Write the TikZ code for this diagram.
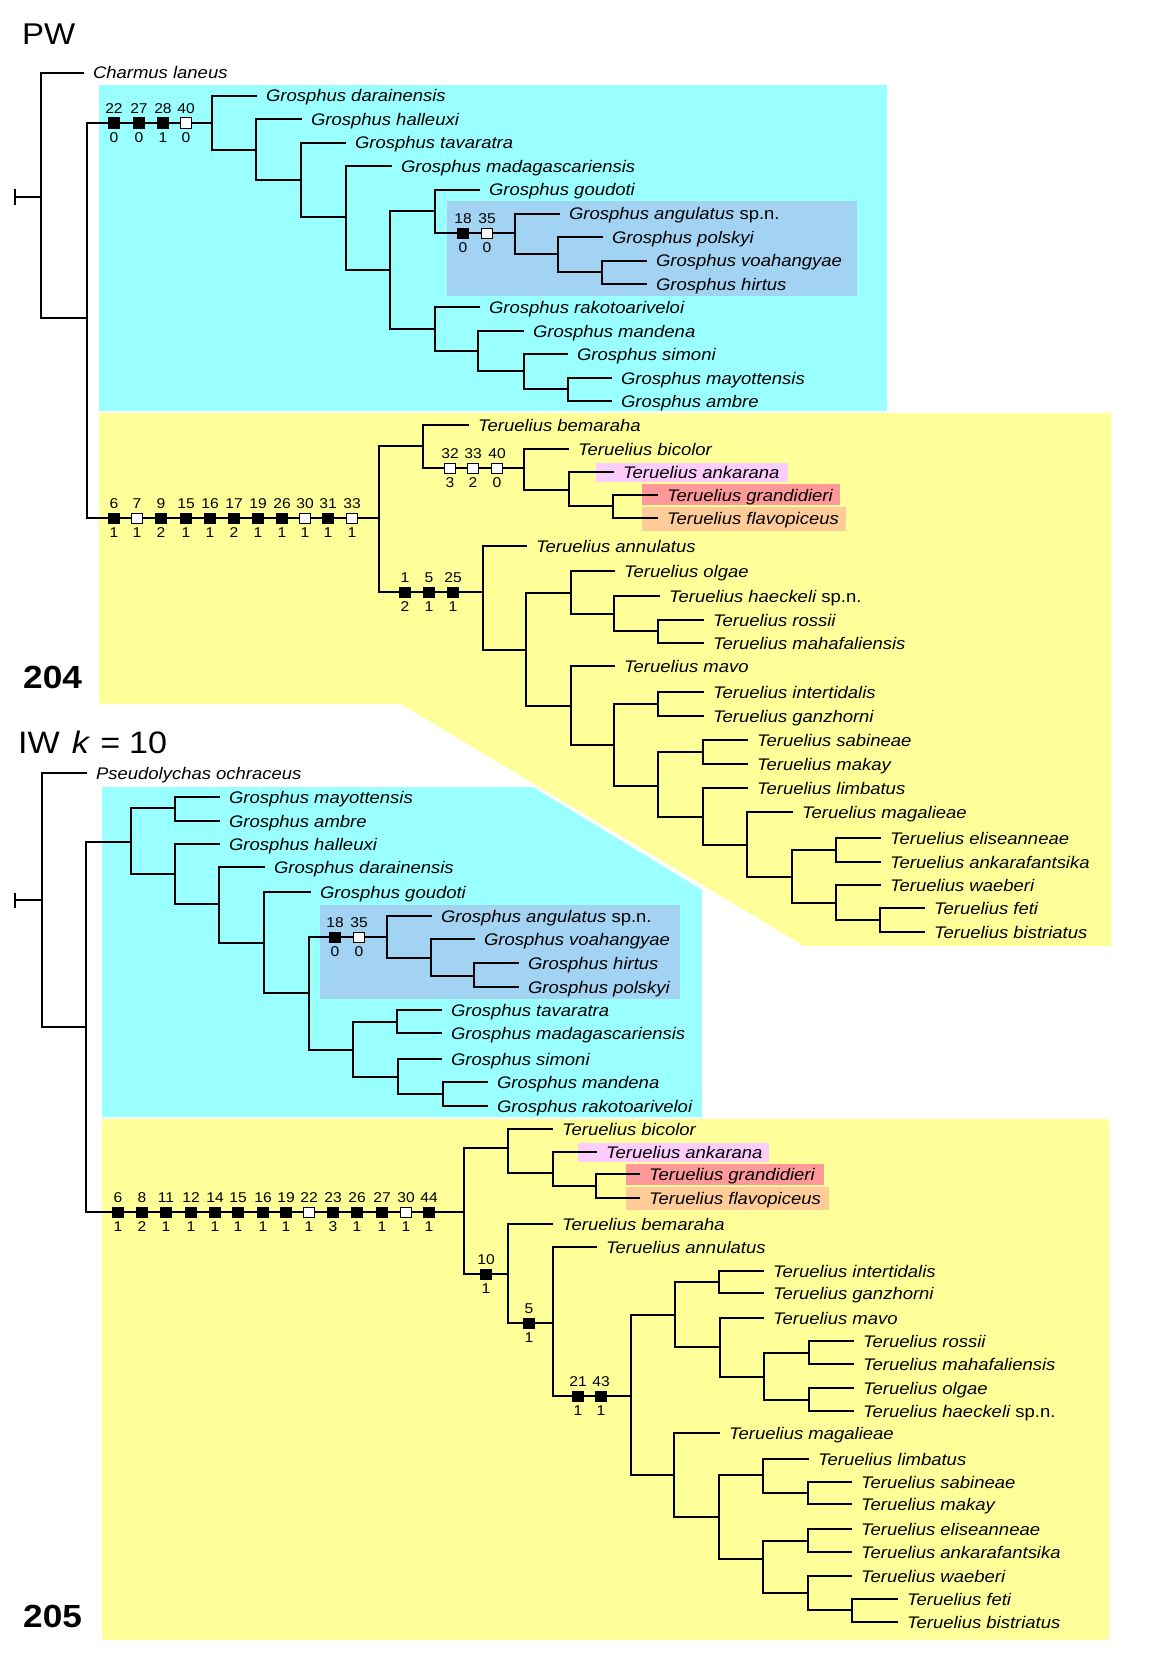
\documentclass[tikz,border=0pt]{standalone}
\usepackage{fontspec}
\setmainfont{Liberation Sans}[FakeStretch=1.1]
\definecolor{cyanbg}{RGB}{153,255,255}
\definecolor{yellowbg}{RGB}{255,255,153}
\definecolor{bluebg}{RGB}{163,211,243}
\definecolor{pinkbg}{RGB}{252,204,252}
\definecolor{redbg}{RGB}{255,153,153}
\definecolor{orangebg}{RGB}{255,204,153}
\newcommand\tipfont{\fontsize{16.8}{18}\selectfont\itshape}
\newcommand\numfont{\fontsize{14.2}{16}\selectfont}
\newcommand\mytip[4]{\node[tip] (#1) at (#2,#3) {#4};}
\newcommand\myclade[5]{\coordinate (#1) at (#2,#3); \draw[br] (#4) -| (#2,#3) |- (#5);}
\newcommand\spn[1]{{#1}\ \upshape sp.n.}
\newcommand\mychars[3]{%
  \foreach \xx/\nu/\st/\fc [count=\i] in {#3} {%
    \node[chr,fill=\fc] (#1\i) at (\xx,#2) {};
    \node[num] (#1u\i) at (\xx,#2-14.5) {\nu};
    \node[num] (#1l\i) at (\xx,#2+14.5) {\st};
  }}
\begin{document}
\begin{tikzpicture}[x=1pt,y=-1pt,
  br/.style={line width=2pt, line join=miter},
  tip/.style={anchor=west, inner xsep=9pt, inner ysep=0pt, outer sep=0pt, text height=12pt, text depth=0pt, font=\tipfont},
  chr/.style={draw=black, line width=0.8pt, minimum width=11.5pt, minimum height=10.2pt, inner sep=0pt, outer sep=0pt},
  num/.style={font=\numfont, inner sep=0pt, outer sep=0pt, text height=10pt, text depth=0pt},
  title/.style={anchor=base west, inner sep=0pt}]
\useasboundingbox (0,0) rectangle (1153,1664);
% ---------------- backgrounds
\fill[cyanbg] (99,85) rectangle (887,411);
\fill[yellowbg] (99,413) -- (1111,413) -- (1111,946) -- (804,946) -- (401,704) -- (99,704) -- cycle;
\fill[bluebg] (447,201) rectangle (857,296);
\fill[pinkbg] (596,463) rectangle (788,482);
\fill[redbg] (642,484) rectangle (840,505);
\fill[orangebg] (642,507) rectangle (846,531);
\fill[cyanbg] (102,787) -- (533,787) -- (702,890) -- (702,1117) -- (102,1117) -- cycle;
\fill[bluebg] (320,905) rectangle (680,999);
\fill[yellowbg] (102,1119) rectangle (1109,1640);
\fill[pinkbg] (578,1143) rectangle (769,1162);
\fill[redbg] (626,1164) rectangle (824,1185);
\fill[orangebg] (626,1187) rectangle (829,1210);
% ---------------- titles
\node[title, font=\fontsize{30}{34}\selectfont] (pw) at (22,45) {PW};
\node[title, font=\fontsize{32}{36}\selectfont\bfseries] (n204) at (23,688) {204};
\node[title, font=\fontsize{31}{34}\selectfont] (iw) at (18,753) {IW\hspace{12pt}\textit{k}\hspace{10pt}=\hspace{9pt}10};
\node[title, font=\fontsize{32}{36}\selectfont\bfseries] (n205) at (23,1627) {205};
% ================= TOP TREE (PW)
\mytip{charm}{84}{73}{Charmus laneus}
\mytip{adar}{257}{96}{Grosphus darainensis}
\mytip{ahal}{302}{119.5}{Grosphus halleuxi}
\mytip{atav}{346}{143}{Grosphus tavaratra}
\mytip{amad}{392}{166.5}{Grosphus madagascariensis}
\mytip{agou}{480}{190}{Grosphus goudoti}
\mytip{aang}{560}{213.5}{\spn{Grosphus angulatus}}
\mytip{apol}{603}{237}{Grosphus polskyi}
\mytip{avoa}{647}{260.5}{Grosphus voahangyae}
\mytip{ahir}{647}{284}{Grosphus hirtus}
\mytip{arak}{480}{307}{Grosphus rakotoariveloi}
\mytip{aman}{524}{331}{Grosphus mandena}
\mytip{asim}{568}{354}{Grosphus simoni}
\mytip{amay}{612}{378}{Grosphus mayottensis}
\mytip{aamb}{612}{401}{Grosphus ambre}
\myclade{ga10}{602}{272}{avoa}{ahir}
\myclade{ga9}{558}{254}{apol}{ga10}
\myclade{ga8}{515}{233}{aang}{ga9}
\myclade{ga6}{435}{211}{agou}{ga8}
\myclade{ga13}{568}{389}{amay}{aamb}
\myclade{ga12}{524}{371}{asim}{ga13}
\myclade{ga11}{478}{351}{aman}{ga12}
\myclade{ga7}{435}{329}{arak}{ga11}
\myclade{ga5}{390}{270}{ga6}{ga7}
\myclade{ga4}{346}{217}{amad}{ga5}
\myclade{ga3}{301}{180}{atav}{ga4}
\myclade{ga2}{256}{150}{ahal}{ga3}
\myclade{ga1}{212}{123}{adar}{ga2}
\mytip{bbem}{469}{425}{Teruelius bemaraha}
\mytip{bbic}{569}{449}{Teruelius bicolor}
\mytip{bank}{614}{472}{Teruelius ankarana}
\mytip{bgra}{658}{495}{Teruelius grandidieri}
\mytip{bfla}{658}{518}{Teruelius flavopiceus}
\mytip{bann}{527}{546}{Teruelius annulatus}
\mytip{bolg}{615}{571}{Teruelius olgae}
\mytip{bhae}{660}{596}{\spn{Teruelius haeckeli}}
\mytip{bros}{704}{620}{Teruelius rossii}
\mytip{bmah}{704}{643}{Teruelius mahafaliensis}
\mytip{bmav}{615}{666}{Teruelius mavo}
\mytip{bint}{704}{692}{Teruelius intertidalis}
\mytip{bgan}{704}{716}{Teruelius ganzhorni}
\mytip{bsab}{748}{740}{Teruelius sabineae}
\mytip{bmak}{748}{764}{Teruelius makay}
\mytip{blim}{748}{788}{Teruelius limbatus}
\mytip{bmag}{793}{812}{Teruelius magalieae}
\mytip{beli}{881}{838}{Teruelius eliseanneae}
\mytip{bkaf}{881}{862}{Teruelius ankarafantsika}
\mytip{bwae}{881}{885}{Teruelius waeberi}
\mytip{bfet}{925}{908}{Teruelius feti}
\mytip{bbis}{925}{932}{Teruelius bistriatus}
\myclade{tb6}{613}{506}{bgra}{bfla}
\myclade{tb5}{569}{490}{bank}{tb6}
\myclade{tb4}{524}{468}{bbic}{tb5}
\myclade{tb2}{423}{446}{bbem}{tb4}
\myclade{tb11}{658}{631}{bros}{bmah}
\myclade{tb10}{614}{614}{bhae}{tb11}
\myclade{tb8}{571}{593}{bolg}{tb10}
\myclade{tb13}{658}{704}{bint}{bgan}
\myclade{tb15}{703}{752}{bsab}{bmak}
\myclade{tb21}{880}{920}{bfet}{bbis}
\myclade{tb20}{836}{903}{bwae}{tb21}
\myclade{tb19}{836}{850}{beli}{bkaf}
\myclade{tb18}{792}{877}{tb19}{tb20}
\myclade{tb17}{747}{845}{bmag}{tb18}
\myclade{tb16}{703}{817}{blim}{tb17}
\myclade{tb14}{658}{786}{tb15}{tb16}
\myclade{tb12}{614}{745}{tb13}{tb14}
\myclade{tb9}{571}{706}{bmav}{tb12}
\myclade{tb7}{526}{650}{tb8}{tb9}
\myclade{tb3}{483}{592}{bann}{tb7}
\myclade{tb1}{379}{518}{tb2}{tb3}
\myclade{p0}{87}{318}{ga1}{tb1}
\myclade{rootA}{41}{197}{charm}{p0}
\coordinate (tickA) at (15,197);
\draw[br] (rootA) -- (tickA);
\draw[br] ([yshift=-7.5pt]tickA) -- ([yshift=7.5pt]tickA);
% characters, top tree
\mychars{sa}{123}{114/22/0/black,139/27/0/black,163/28/1/black,186/40/0/white}
\mychars{sb}{233}{463/18/0/black,487/35/0/white}
\mychars{sc}{518}{114/6/1/black,137/7/1/white,161/9/2/black,186/15/1/black,210/16/1/black,234/17/2/black,258/19/1/black,282/26/1/black,305/30/1/white,328/31/1/black,352/33/1/white}
\mychars{sd}{468}{450/32/3/white,473/33/2/white,497/40/0/white}
\mychars{se}{592}{405/1/2/black,429/5/1/black,453/25/1/black}
% ================= BOTTOM TREE (IW)
\mytip{pseu}{87}{773}{Pseudolychas ochraceus}
\mytip{cmay}{220}{797}{Grosphus mayottensis}
\mytip{camb}{220}{821}{Grosphus ambre}
\mytip{chal}{220}{844}{Grosphus halleuxi}
\mytip{cdar}{265}{867}{Grosphus darainensis}
\mytip{cgou}{311}{892}{Grosphus goudoti}
\mytip{cang}{432}{916}{\spn{Grosphus angulatus}}
\mytip{cvoa}{475}{939}{Grosphus voahangyae}
\mytip{chir}{519}{963}{Grosphus hirtus}
\mytip{cpol}{519}{987}{Grosphus polskyi}
\mytip{ctav}{442}{1010}{Grosphus tavaratra}
\mytip{cmad}{442}{1033}{Grosphus madagascariensis}
\mytip{csim}{442}{1059}{Grosphus simoni}
\mytip{cman}{488}{1082}{Grosphus mandena}
\mytip{crak}{488}{1106}{Grosphus rakotoariveloi}
\myclade{gc1}{175}{808}{cmay}{camb}
\myclade{gc9}{474}{976}{chir}{cpol}
\myclade{gc8}{431}{958}{cvoa}{gc9}
\myclade{gc6}{387}{937}{cang}{gc8}
\myclade{gc10}{397}{1022}{ctav}{cmad}
\myclade{gc12}{443}{1094}{cman}{crak}
\myclade{gc11}{398}{1077}{csim}{gc12}
\myclade{gc7}{353}{1050}{gc10}{gc11}
\myclade{gc5}{309}{993}{gc6}{gc7}
\myclade{gc4}{264}{943}{cgou}{gc5}
\myclade{gc3}{219}{904}{cdar}{gc4}
\myclade{gc2}{175}{874}{chal}{gc3}
\myclade{gc0}{131}{842}{gc1}{gc2}
\mytip{dbic}{553}{1129}{Teruelius bicolor}
\mytip{dank}{597}{1152}{Teruelius ankarana}
\mytip{dgra}{640}{1174}{Teruelius grandidieri}
\mytip{dfla}{640}{1198}{Teruelius flavopiceus}
\mytip{dbem}{553}{1224}{Teruelius bemaraha}
\mytip{dann}{597}{1247}{Teruelius annulatus}
\mytip{dint}{764}{1271}{Teruelius intertidalis}
\mytip{dgan}{764}{1293}{Teruelius ganzhorni}
\mytip{dmav}{764}{1318}{Teruelius mavo}
\mytip{dros}{854}{1341}{Teruelius rossii}
\mytip{dmah}{854}{1364}{Teruelius mahafaliensis}
\mytip{dolg}{854}{1388}{Teruelius olgae}
\mytip{dhae}{854}{1411}{\spn{Teruelius haeckeli}}
\mytip{dmag}{720}{1433}{Teruelius magalieae}
\mytip{dlim}{809}{1459}{Teruelius limbatus}
\mytip{dsab}{852}{1482}{Teruelius sabineae}
\mytip{dmak}{852}{1504}{Teruelius makay}
\mytip{deli}{852}{1529}{Teruelius eliseanneae}
\mytip{dkaf}{852}{1552}{Teruelius ankarafantsika}
\mytip{dwae}{852}{1576}{Teruelius waeberi}
\mytip{dfet}{898}{1599}{Teruelius feti}
\mytip{dbis}{898}{1622}{Teruelius bistriatus}
\myclade{td4}{596}{1186}{dgra}{dfla}
\myclade{td3}{553}{1173}{dank}{td4}
\myclade{td1}{508}{1148}{dbic}{td3}
\myclade{td9}{719}{1282}{dint}{dgan}
\myclade{td12}{809}{1353}{dros}{dmah}
\myclade{td13}{809}{1400}{dolg}{dhae}
\myclade{td11}{764}{1377}{td12}{td13}
\myclade{td10}{720}{1347}{dmav}{td11}
\myclade{td7}{675}{1315}{td9}{td10}
\myclade{td17}{808}{1493}{dsab}{dmak}
\myclade{td15}{763}{1475}{dlim}{td17}
\myclade{td18}{808}{1541}{deli}{dkaf}
\myclade{td20}{852}{1610}{dfet}{dbis}
\myclade{td19}{808}{1593}{dwae}{td20}
\myclade{td16}{763}{1559}{td18}{td19}
\myclade{td14}{719}{1517}{td15}{td16}
\myclade{td8}{674}{1475}{dmag}{td14}
\myclade{td6}{631}{1396}{td7}{td8}
\myclade{td5}{553}{1323}{dann}{td6}
\myclade{td2}{508}{1274}{dbem}{td5}
\myclade{td0}{464}{1212}{td1}{td2}
\myclade{q0}{86}{1027}{gc0}{td0}
\myclade{rootB}{42}{900}{pseu}{q0}
\coordinate (tickB) at (15,900);
\draw[br] (rootB) -- (tickB);
\draw[br] ([yshift=-7.5pt]tickB) -- ([yshift=7.5pt]tickB);
% characters, bottom tree
\mychars{sf}{937}{335/18/0/black,359/35/0/white}
\mychars{sg}{1212}{118/6/1/black,142/8/2/black,166/11/1/black,191/12/1/black,215/14/1/black,238/15/1/black,263/16/1/black,286/19/1/black,309/22/1/white,333/23/3/black,357/26/1/black,382/27/1/black,406/30/1/white,429/44/1/black}
\mychars{sh}{1274}{486/10/1/black}
\mychars{si}{1323}{529/5/1/black}
\mychars{sj}{1396}{578/21/1/black,601/43/1/black}
\end{tikzpicture}
\end{document}
